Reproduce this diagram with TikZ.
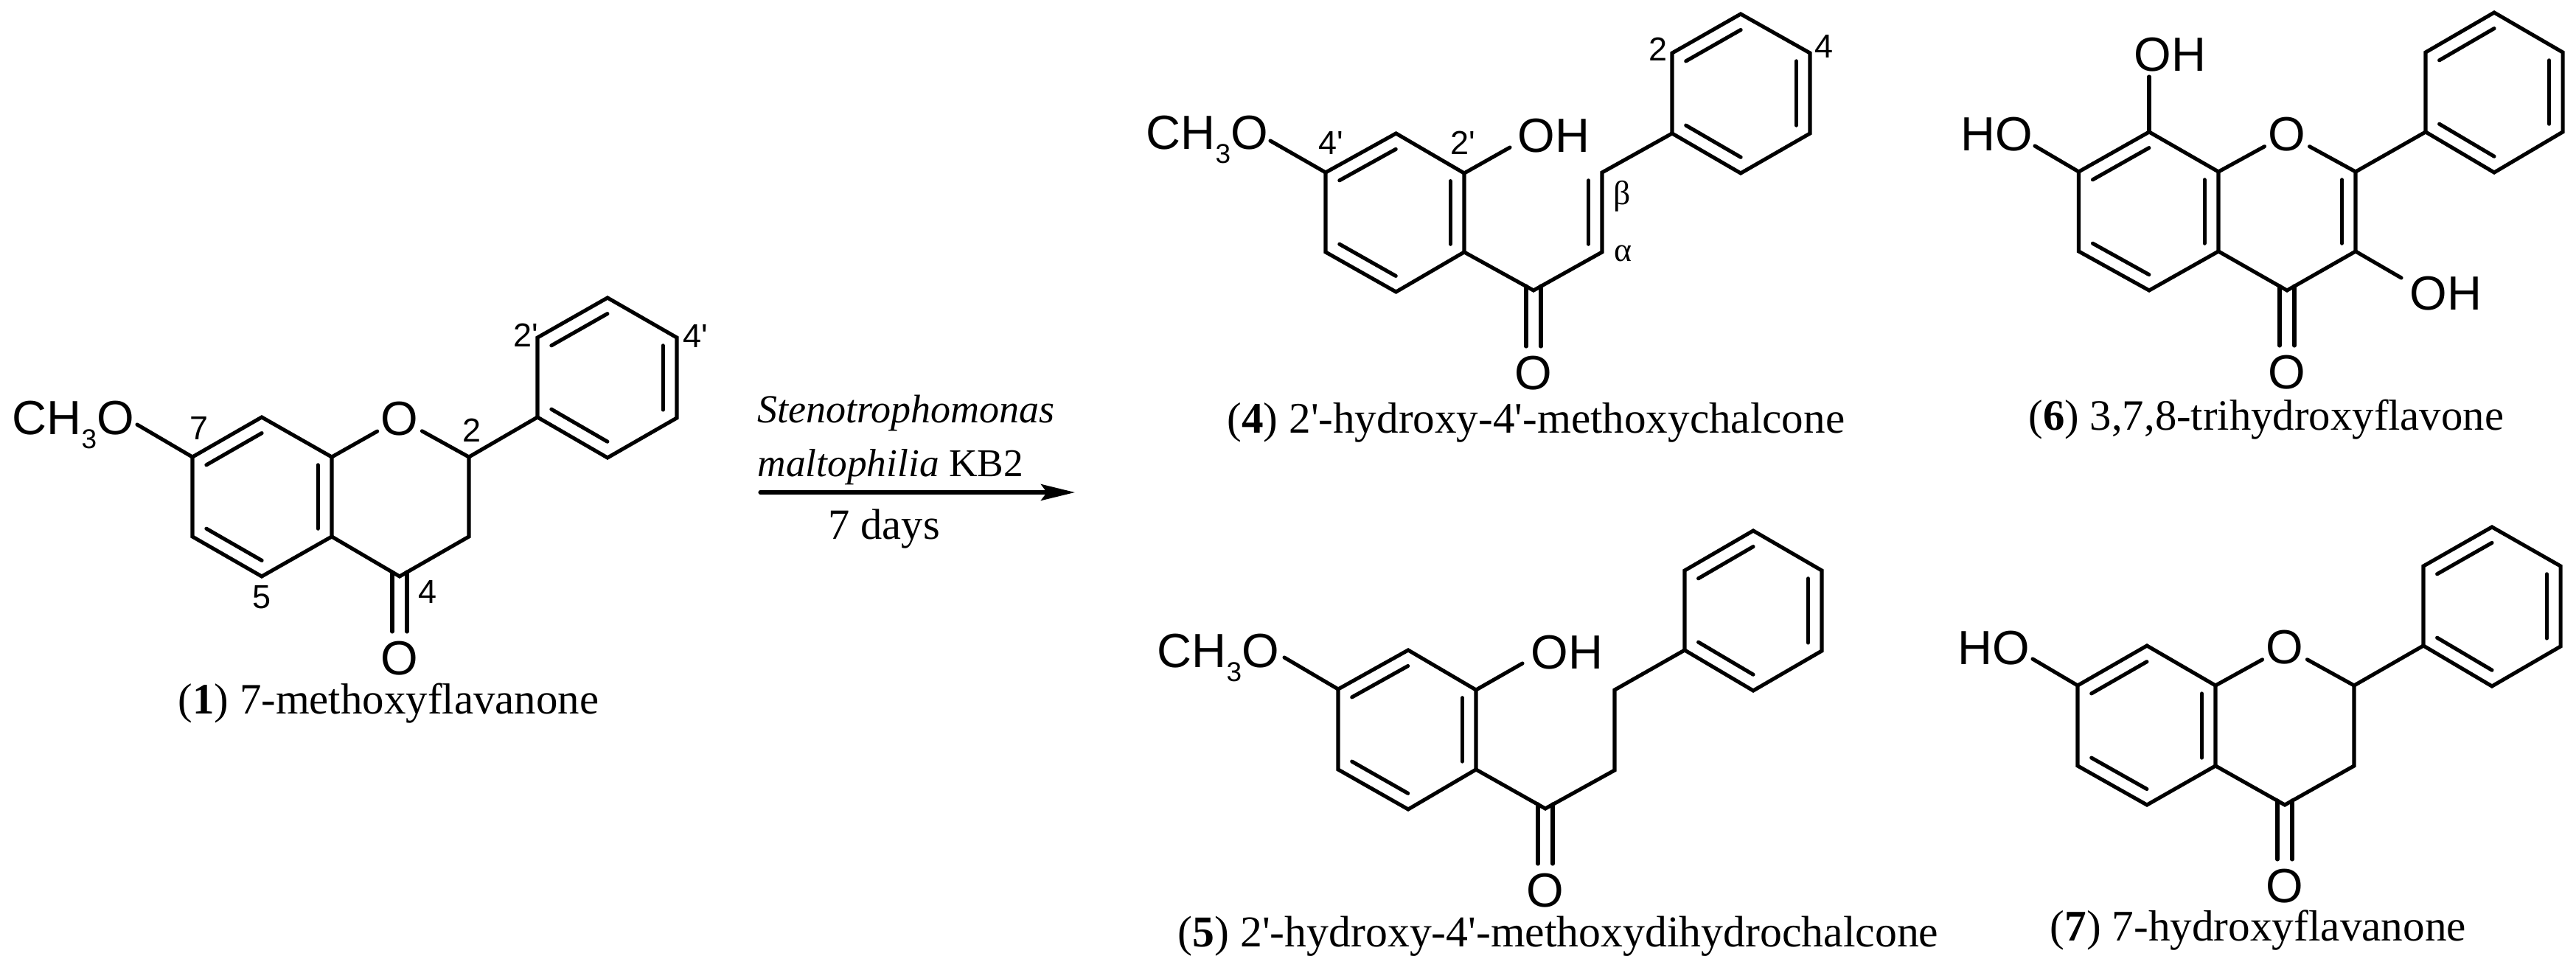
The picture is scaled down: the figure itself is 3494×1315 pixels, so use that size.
\documentclass[tikz,border=0pt]{standalone}
\usepackage{fontspec}
\usepackage{graphicx}
\usetikzlibrary{calc,arrows.meta}
\newfontfamily\capfont{Liberation Serif}
\newfontfamily\atomfont{Liberation Sans}
\newcommand{\atomsize}{\fontsize{18.5pt}{20pt}\selectfont}
\newcommand{\lblsize}{\fontsize{12.8pt}{14pt}\selectfont}
\newcommand{\subthree}{\raisebox{-.3em}{\fontsize{10.5pt}{11pt}\selectfont 3}}
\newcommand{\fitw}[2]{\resizebox{#1}{!}{#2}}
\newcommand{\dbl}[3]{\draw[bond] ($(#1)!.2!(#3)$) -- ($(#2)!.2!(#3)$);}
\newcommand{\cdo}[3]{\draw[bond] ($(#1)+(-#3,-6)$) -- ($(#2)+(-#3,-36)$);\draw[bond] ($(#1)+(#3,-6)$) -- ($(#2)+(#3,-36)$);}
\newcommand{\ring}[7]{\coordinate (#1a) at #2;\coordinate (#1b) at #3;\coordinate (#1c) at #4;\coordinate (#1d) at #5;\coordinate (#1e) at #6;\coordinate (#1f) at #7;
  \coordinate (#1o) at ($(#1a)!.5!(#1d)$);
  \draw[bond] (#1a)--(#1b)--(#1c)--(#1d)--(#1e)--(#1f)--cycle;}
\tikzset{
  bond/.style={line width=1.45pt,line cap=round,line join=miter},
  atomlab/.style={font=\atomfont\atomsize,inner sep=0pt,anchor=base west},
  ringO/.style={font=\atomfont\atomsize,inner sep=0pt,circle,minimum size=.68cm},
  oxo/.style={font=\atomfont\atomsize,inner sep=0pt},
  numlab/.style={font=\atomfont\lblsize,inner sep=0pt},
  greek/.style={font=\capfont\fontsize{13pt}{14pt}\selectfont,inner sep=0pt},
  capt/.style={font=\capfont\fontsize{17pt}{20pt}\selectfont,inner sep=0pt,anchor=base west},
  rxnarrow/.style={line width=1.45pt,line cap=round,-{Stealth[length=.46cm,width=.22cm,inset=.08cm]}}
}
\begin{document}
\begin{tikzpicture}[x=0.01cm,y=-0.01cm]
\useasboundingbox (0,0) rectangle (3494,1315);
% ---- compound 1
\ring{ma}{(261,620)}{(355,566)}{(450,620)}{(450,728)}{(355,782)}{(261,728)}
\ring{mb}{(729,566)}{(729,458)}{(824,404)}{(918,458)}{(918,567)}{(824,621)}
\dbl{maa}{mab}{mao}\dbl{mac}{mad}{mao}\dbl{mae}{maf}{mao}
\dbl{mbb}{mbc}{mbo}\dbl{mbd}{mbe}{mbo}\dbl{mbf}{mba}{mbo}
\coordinate (m2) at (636,620);\coordinate (m3) at (636,728);\coordinate (m4) at (542,782);
\node[ringO] (mO) at (542,568) {O};
\node[oxo] (mOc) at (542,893) {O};
\draw[bond] (mac) -- (mO);\draw[bond] (mO) -- (m2) -- (m3) -- (m4) -- (mad);
\draw[bond] (m2) -- (mba);
\cdo{m4}{mOc}{10}
\node[atomlab] (mMe) at (16,589) {CH\subthree O};
\coordinate (mMeEnd) at (186,576);
\draw[bond] (maa) -- (mMeEnd);
\node[numlab] (ml7) at (270,581) {7};
\node[numlab] (ml2) at (640,584) {2};
\node[numlab] (ml5) at (355,810) {5};
\node[numlab] (ml4) at (580,803) {4};
\node[numlab] (ml2p) at (713,455) {2'};
\node[numlab] (ml4p) at (943,456) {4'};
\node[capt] (c1) at (241,968) {\fitw{5.70cm}{(\textbf{1}) 7-methoxyflavanone}};
% ---- arrow
\node[capt] (r1) at (1027,573) {\fitw{4.03cm}{\itshape Stenotrophomonas}};
\node[capt] (r2) at (1027,646) {\fitw{3.60cm}{\textit{maltophilia} KB2}};
\node[capt] (r3) at (1123,731) {\fitw{1.51cm}{7 days}};
\coordinate (arrS) at (1031,668);\coordinate (arrE) at (1458,668);
\draw[rxnarrow] (arrS) -- (arrE);
% ---- compound 4
\ring{da}{(1798,234)}{(1893.5,181)}{(1986,235)}{(1986,342)}{(1893.5,396)}{(1798,342)}
\ring{db}{(2268,181)}{(2268,72)}{(2361,19)}{(2455,72)}{(2455,181)}{(2361,235)}
\dbl{daa}{dab}{dao}\dbl{dac}{dad}{dao}\dbl{dae}{daf}{dao}
\dbl{dbb}{dbc}{dbo}\dbl{dbd}{dbe}{dbo}\dbl{dbf}{dba}{dbo}
\coordinate (dk) at (2080,394);\coordinate (dal) at (2173,342);\coordinate (dbe2) at (2173,234);\coordinate (dvc) at (2080,288);
\draw[bond] (dad) -- (dk) -- (dal) -- (dbe2) -- (dba);
\dbl{dal}{dbe2}{dvc}
\node[oxo] (dOc) at (2080,506) {O};
\cdo{dk}{dOc}{10}
\node[atomlab] (dMe) at (1554,202) {CH\subthree O};
\coordinate (dMeEnd) at (1723,191);
\draw[bond] (daa) -- (dMeEnd);
\node[atomlab] (dOH) at (2058,206) {OH};
\coordinate (dOHEnd) at (2048,200);
\draw[bond] (dac) -- (dOHEnd);
\node[numlab] (dl4p) at (1805,194) {4'};
\node[numlab] (dl2p) at (1984,194) {2'};
\node[numlab] (dl2) at (2249,67) {2};
\node[numlab] (dl4) at (2474,63) {4};
\node[greek] (dlb) at (2200,266) {β};
\node[greek] (dla) at (2201,344) {α};
\node[capt] (c4) at (1664,587) {\fitw{8.37cm}{(\textbf{4}) 2'-hydroxy-4'-methoxychalcone}};
% ---- compound 6
\ring{fa}{(2819.5,233)}{(2915,179)}{(3009,233)}{(3009,341)}{(2915,394)}{(2819.5,341)}
\ring{fb}{(3290,179)}{(3290,71)}{(3383,17)}{(3476,71)}{(3476,179)}{(3383,234)}
\dbl{faa}{fab}{fao}\dbl{fac}{fad}{fao}\dbl{fae}{faf}{fao}
\dbl{fbb}{fbc}{fbo}\dbl{fbd}{fbe}{fbo}\dbl{fbf}{fba}{fbo}
\coordinate (f2) at (3195,233);\coordinate (f3) at (3195,341);\coordinate (f4) at (3102,394);\coordinate (fpc) at (3102,287);
\node[ringO] (fO) at (3102,182) {O};
\node[oxo] (fOc) at (3102,505) {O};
\draw[bond] (fac) -- (fO);\draw[bond] (fO) -- (f2) -- (f3) -- (f4) -- (fad);
\draw[bond] (f2) -- (fba);
\dbl{f2}{f3}{fpc}
\cdo{f4}{fOc}{10}
\node[atomlab] (fOH8) at (2894,97) {OH};
\coordinate (fOH8End) at (2915,104);
\draw[bond] (fab) -- (fOH8End);
\node[atomlab] (fHO) at (2659,204) {HO};
\coordinate (fHOEnd) at (2760,198);
\draw[bond] (faa) -- (fHOEnd);
\node[atomlab] (fOH3) at (3268,420) {OH};
\coordinate (fOH3End) at (3257,377);
\draw[bond] (f3) -- (fOH3End);
\node[capt] (c6) at (2751,583) {\fitw{6.44cm}{(\textbf{6}) 3,7,8-trihydroxyflavone}};
% ---- compound 5
\ring{ea}{(1815,935)}{(1910,882)}{(2002,936)}{(2002,1044)}{(1910,1098)}{(1815,1044)}
\ring{eb}{(2285,882)}{(2285,774)}{(2378,720)}{(2471,774)}{(2471,883)}{(2378,937)}
\dbl{eaa}{eab}{eao}\dbl{eac}{ead}{eao}\dbl{eae}{eaf}{eao}
\dbl{ebb}{ebc}{ebo}\dbl{ebd}{ebe}{ebo}\dbl{ebf}{eba}{ebo}
\coordinate (ek) at (2096,1097);\coordinate (ec1) at (2190,1045);\coordinate (ec2) at (2190,936);
\draw[bond] (ead) -- (ek) -- (ec1) -- (ec2) -- (eba);
\node[oxo] (eOc) at (2096,1208) {O};
\cdo{ek}{eOc}{10}
\node[atomlab] (eMe) at (1569,905) {CH\subthree O};
\coordinate (eMeEnd) at (1742,892);
\draw[bond] (eaa) -- (eMeEnd);
\node[atomlab] (eOH) at (2076,907) {OH};
\coordinate (eOHEnd) at (2065,900);
\draw[bond] (eac) -- (eOHEnd);
\node[capt] (c5) at (1597,1284) {\fitw{10.31cm}{(\textbf{5}) 2'-hydroxy-4'-methoxydihydrochalcone}};
% ---- compound 7
\ring{ga}{(2818,930)}{(2912,876)}{(3005,930)}{(3005,1039)}{(2912,1092)}{(2818,1039)}
\ring{gb}{(3287,876)}{(3287,768)}{(3380,715)}{(3473,768)}{(3473,877)}{(3380,931)}
\dbl{gaa}{gab}{gao}\dbl{gac}{gad}{gao}\dbl{gae}{gaf}{gao}
\dbl{gbb}{gbc}{gbo}\dbl{gbd}{gbe}{gbo}\dbl{gbf}{gba}{gbo}
\coordinate (g2) at (3193,930);\coordinate (g3) at (3193,1039);\coordinate (g4) at (3099,1092);
\node[ringO] (gO) at (3099,878) {O};
\node[oxo] (gOc) at (3099,1202) {O};
\draw[bond] (gac) -- (gO);\draw[bond] (gO) -- (g2) -- (g3) -- (g4) -- (gad);
\draw[bond] (g2) -- (gba);
\cdo{g4}{gOc}{10}
\node[atomlab] (gHO) at (2655,901) {HO};
\coordinate (gHOEnd) at (2757,894);
\draw[bond] (gaa) -- (gHOEnd);
\node[capt] (c7) at (2780,1276) {\fitw{5.64cm}{(\textbf{7}) 7-hydroxyflavanone}};
\end{tikzpicture}
\end{document}
